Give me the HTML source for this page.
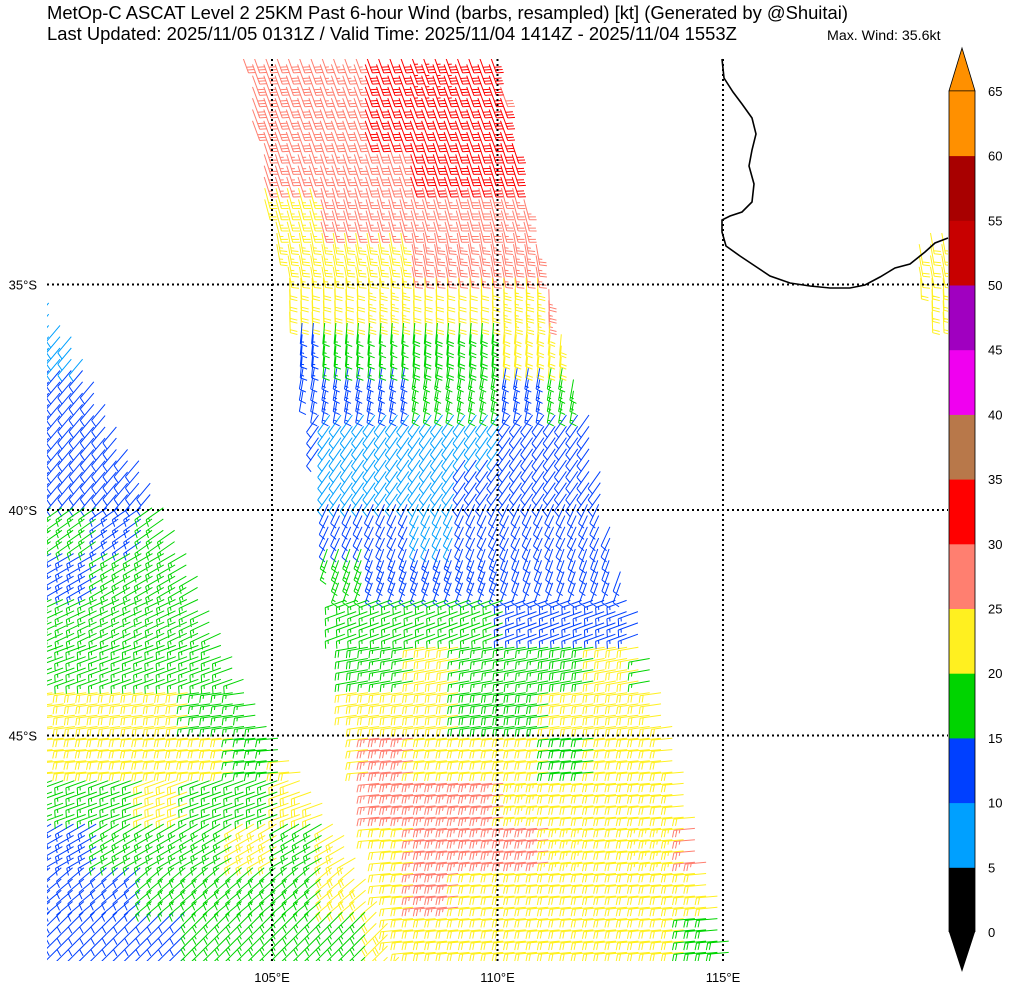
<!DOCTYPE html>
<html><head><meta charset="utf-8"><style>
html,body{margin:0;padding:0;background:#fff;}
svg{display:block;font-family:"Liberation Sans",sans-serif;}
</style></head><body>
<svg id="chart" width="1009" height="989" viewBox="0 0 1009 989">
<defs><clipPath id="mapclip"><rect x="47" y="59" width="901" height="902"/></clipPath></defs>
<text x="47" y="19" font-size="18.4">MetOp-C ASCAT Level 2 25KM Past 6-hour Wind (barbs, resampled) [kt] (Generated by @Shuitai)</text>
<text x="47" y="40" font-size="18.4">Last Updated: 2025/11/05 0131Z / Valid Time: 2025/11/04 1414Z - 2025/11/04 1553Z</text>
<text x="827" y="40" font-size="14.2">Max. Wind: 35.6kt</text>
<g id="barbs" clip-path="url(#mapclip)"></g>
<path d="M722,59 L724,78 L733,92 L742,104 L752,118 L756,134 L752,150 L749,166 L754,184 L752,202 L742,212 L730,216 L722,220 L722,232 L726,246 L740,256 L755,266 L770,276 L790,283 L810,286 L830,288 L850,288 L865,285 L880,277 L895,268 L910,264 L925,252 L935,243 L948,238" fill="none" stroke="#000" stroke-width="1.6"/>
<g id="grid"></g>
<g id="axes"></g>
<g id="cbar"></g>
</svg>
<script>
const NS='http://www.w3.org/2000/svg';
// speed grid (kt), rows = lat 30..49°S, cols = lon 100..119°E
const speedRows=[
[0,0,0,0,28,28,27,32,33,32,28,0,0,0,0,0,0,0,0,0],
[0,0,0,0,28,28,28,31,32,32,30,0,0,0,0,0,0,0,0,0],
[0,0,0,0,27,27,27,28,31,31,31,0,0,0,0,0,0,0,0,0],
[0,0,0,0,24,24,27,27,27,28,27,27,0,0,0,0,0,0,0,0],
[0,0,0,0,23,23,23,24,27,27,27,27,0,0,0,0,0,0,0,22],
[9,0,0,0,0,20,22,23,22,22,24,26,26,0,0,0,0,0,0,22],
[8,12,0,0,0,14,17,17,18,18,21,22,22,0,0,0,0,0,0,0],
[12,12,0,0,0,12,13,13,16,17,13,15,12,0,0,0,0,0,0,0],
[12,12,12,0,0,12,8,8,8,8,11,12,12,0,0,0,0,0,0,0],
[12,12,12,0,0,0,8,8,9,12,11,12,12,12,0,0,0,0,0,0],
[16,13,17,17,0,0,12,11,9,12,12,12,12,13,0,0,0,0,0,0],
[13,16,17,17,0,0,17,13,13,13,12,12,12,12,0,0,0,0,0,0],
[16,17,17,17,17,0,17,17,17,16,14,13,13,16,0,0,0,0,0,0],
[17,17,17,17,17,0,18,17,22,17,17,18,22,17,17,0,0,0,0,0],
[22,22,22,17,17,17,22,22,22,18,18,22,22,21,17,0,0,0,0,0],
[22,22,22,22,17,22,22,26,22,22,22,18,22,22,22,0,0,0,0,0],
[17,17,22,17,17,22,22,27,27,26,23,22,22,22,22,0,0,0,0,0],
[13,17,17,17,22,17,22,22,26,27,27,23,22,24,26,0,0,0,0,0],
[12,12,17,17,17,17,22,22,26,22,22,22,22,22,22,22,0,0,0,0],
[12,12,12,17,17,17,17,22,22,22,22,22,22,22,18,17,0,0,0,0]];
// staff direction (deg clockwise from up) per lat row
const dirRight=[160,160,162,165,170,178,185,190,215,215,205,200,250,260,262,265,265,265,265,265];
const dirLeft=[230,230,230,230,230,220,220,220,220,220,235,240,245,250,262,265,250,240,230,225];
const levels=[0,5,10,15,20,25,30,35,40,45,50,55,60,65];
const colors=['#000000','#00a0ff','#0040ff','#00d400','#fff020','#ff7f70','#ff0000','#b8784a','#f000f0','#a000c0','#c80000','#a80000','#ff9000'];
const lonTicks=[105,110,115];
const latTicks=[35,40,45];

const X0=46.5,Y0=59,PX=45.1;
const xOf=lon=>X0+(lon-100)*PX;
const yOf=lat=>Y0+(lat-30)*PX;
const rightSwath=[[244,59],[497,59],[525,200],[560,340],[585,430],[600,510],[630,620],[660,720],[700,870],[725,961],[395,961],[375,880],[365,820],[345,720],[335,640],[315,520],[300,400],[285,285],[265,200]];
const leftSwath=[[40,300],[150,500],[240,690],[270,740],[330,830],[370,900],[395,970],[40,970]];
const farSwath=[[912,252],[948,236],[948,340],[932,340]];
function inPoly(x,y,p){let c=false;for(let i=0,j=p.length-1;i<p.length;j=i++){const a=p[i],b=p[j];if((a[1]>y)!=(b[1]>y)&&x<(b[0]-a[0])*(y-a[1])/(b[1]-a[1])+a[0])c=!c;}return c;}
function colorFor(s){let k=0;for(let i=0;i<levels.length-1;i++)if(s>=levels[i])k=i;return colors[Math.min(k,colors.length-1)];}

const barbPaths={};
const L=21;
for(let y=Y0+4;y<968;y+=11.27){
  for(let x=42;x<955;x+=11.27){
    let sw=null;
    if(inPoly(x,y,rightSwath)||inPoly(x,y,farSwath))sw='r';else if(inPoly(x,y,leftSwath))sw='l';
    if(!sw)continue;
    const r=Math.max(0,Math.min(19,Math.floor((y-Y0)/PX))),c=Math.max(0,Math.min(19,Math.floor((x-X0)/PX)));
    const s=speedRows[r][c];if(!s)continue;
    const d=(sw==='r'?dirRight[r]:dirLeft[r])*Math.PI/180;
    const ux=Math.sin(d),uy=-Math.cos(d);
    const sx=Math.sin(d-Math.PI/2),sy=-Math.cos(d-Math.PI/2);
    const bx0=x-ux*L/2,by0=y-uy*L/2;
    const tx=x+ux*L/2,ty=y+uy*L/2;
    let p=`M${bx0.toFixed(1)},${by0.toFixed(1)}L${tx.toFixed(1)},${ty.toFixed(1)}`;
    let rem=Math.round(s/5)*5,pos=0;
    while(rem>=10){const bx=tx-ux*pos,by=ty-uy*pos;p+=`M${bx.toFixed(1)},${by.toFixed(1)}l${(sx*7+ux*2).toFixed(1)},${(sy*7+uy*2).toFixed(1)}`;pos+=3;rem-=10;}
    if(rem>=5){if(pos===0)pos=3;const bx=tx-ux*pos,by=ty-uy*pos;p+=`M${bx.toFixed(1)},${by.toFixed(1)}l${(sx*3.5+ux*1).toFixed(1)},${(sy*3.5+uy*1).toFixed(1)}`;}
    const col=colorFor(s);
    barbPaths[col]=(barbPaths[col]||'')+p;
  }
}
const bg=document.getElementById('barbs');
for(const col in barbPaths){
  const el=document.createElementNS(NS,'path');
  el.setAttribute('d',barbPaths[col]);el.setAttribute('stroke',col);el.setAttribute('stroke-width','1');el.setAttribute('fill','none');
  
  
  bg.appendChild(el);
}
const gg=document.getElementById('grid'),ax=document.getElementById('axes');
lonTicks.forEach(lon=>{
  const x=xOf(lon);
  const l=document.createElementNS(NS,'line');
  l.setAttribute('x1',x);l.setAttribute('x2',x);l.setAttribute('y1',Y0);l.setAttribute('y2',961);
  l.setAttribute('stroke','#000');l.setAttribute('stroke-width','2');l.setAttribute('stroke-dasharray','2,3');
  
  
  gg.appendChild(l);
  const t=document.createElementNS(NS,'text');
  t.setAttribute('x',x);t.setAttribute('y',982);t.setAttribute('text-anchor','middle');t.setAttribute('font-size','13');
  t.textContent=lon+'°E';
  
  
  ax.appendChild(t);
});
latTicks.forEach(lat=>{
  const y=yOf(lat);
  const l=document.createElementNS(NS,'line');
  l.setAttribute('x1',47);l.setAttribute('x2',948);l.setAttribute('y1',y);l.setAttribute('y2',y);
  l.setAttribute('stroke','#000');l.setAttribute('stroke-width','2');l.setAttribute('stroke-dasharray','2,3');
  
  
  gg.appendChild(l);
  const t=document.createElementNS(NS,'text');
  t.setAttribute('x',37);t.setAttribute('y',y+5);t.setAttribute('text-anchor','end');t.setAttribute('font-size','13');
  t.textContent=lat+'°S';
  
  
  ax.appendChild(t);
});
// colorbar
const cb=document.getElementById('cbar');
const CB0=932,CBS=64.7,CX=949,CW=26;
const cy=v=>CB0-(v/5)*CBS;
for(let i=0;i<colors.length;i++){
  const r=document.createElementNS(NS,'rect');
  r.setAttribute('x',CX);r.setAttribute('y',cy(levels[i+1]));r.setAttribute('width',CW);r.setAttribute('height',CBS+0.5);
  r.setAttribute('fill',colors[i]);
  
  
  cb.appendChild(r);
}
const cbTop=document.createElementNS(NS,'polygon');
cbTop.setAttribute('points',`${CX},${cy(65)} ${CX+CW},${cy(65)} ${CX+CW/2},48`);cbTop.setAttribute('fill','#ff9000');cbTop.setAttribute('stroke','#000');cbTop.setAttribute('stroke-width','0.8');


cb.appendChild(cbTop);
const cbBot=document.createElementNS(NS,'polygon');
cbBot.setAttribute('points',`${CX},${CB0} ${CX+CW},${CB0} ${CX+CW/2},972`);cbBot.setAttribute('fill','#000');


cb.appendChild(cbBot);
const cbFrame=document.createElementNS(NS,'path');
cbFrame.setAttribute('d',`M${CX},${cy(65)}L${CX},${CB0}M${CX+CW},${cy(65)}L${CX+CW},${CB0}`);cbFrame.setAttribute('stroke','#000');cbFrame.setAttribute('stroke-width','0.8');


cb.appendChild(cbFrame);
levels.forEach(v=>{
  const t=document.createElementNS(NS,'text');
  t.setAttribute('x',988);t.setAttribute('y',cy(v)+5);t.setAttribute('font-size','13');
  t.textContent=v;
  
  
  cb.appendChild(t);
});
</script>
</body></html>
